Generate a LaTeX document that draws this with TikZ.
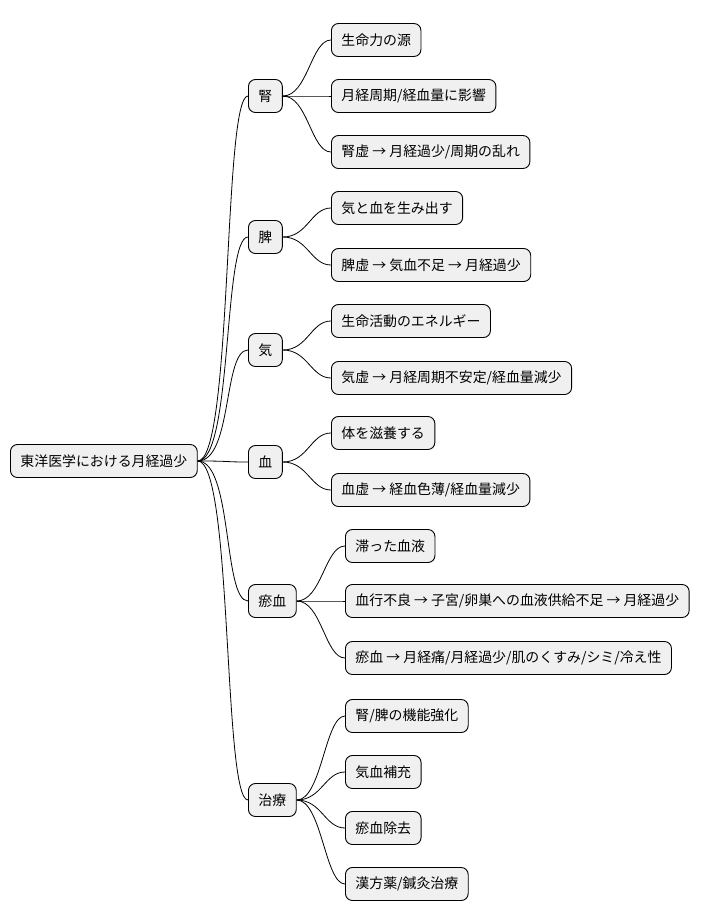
\documentclass[tikz,border=0pt]{standalone}
\usepackage{fontspec}
\setmainfont{Noto Sans CJK JP}
\begin{document}
\begin{tikzpicture}[x=1pt,y=-1pt,
 box/.style={draw=black,line width=0.9pt,fill=black!6,rounded corners=7pt,anchor=west,minimum height=33pt,inner xsep=10pt,font=\fontsize{13.9}{16}\selectfont},
 lk/.style={draw=black,line width=0.8pt}]
\useasboundingbox (0,0) rectangle (702,921);
\node[box] (r) at (10,461) {東洋医学における月経過少};
\node[box] (k) at (248,96) {腎};
\node[box] (p) at (248,237) {脾};
\node[box] (q) at (248,350) {気};
\node[box] (b) at (248,462) {血};
\node[box] (o) at (248,601) {瘀血};
\node[box] (t) at (248,800) {治療};
\node[box] (k1) at (331,40) {生命力の源};
\node[box] (k2) at (331,96) {月経周期/経血量に影響};
\node[box] (k3) at (331,152) {腎虚 → 月経過少/周期の乱れ};
\node[box] (p1) at (331,208) {気と血を生み出す};
\node[box] (p2) at (331,265) {脾虚 → 気血不足 → 月経過少};
\node[box] (q1) at (331,321) {生命活動のエネルギー};
\node[box] (q2) at (331,378) {気虚 → 月経周期不安定/経血量減少};
\node[box] (b1) at (331,433) {体を滋養する};
\node[box] (b2) at (331,490) {血虚 → 経血色薄/経血量減少};
\node[box] (o1) at (345,546) {滞った血液};
\node[box] (o2) at (345,601) {血行不良 → 子宮/卵巣への血液供給不足 → 月経過少};
\node[box] (o3) at (345,658) {瘀血 → 月経痛/月経過少/肌のくすみ/シミ/冷え性};
\node[box] (t1) at (345,716) {腎/脾の機能強化};
\node[box] (t2) at (345,772) {気血補充};
\node[box] (t3) at (345,828) {瘀血除去};
\node[box] (t4) at (345,884) {漢方薬/鍼灸治療};
\foreach \c in {k,p,q,b,o,t}
  \draw[lk] (r.east) .. controls +(35,0) and +(-25,0) .. (\c.west);
\foreach \p/\c in {k/k1,k/k2,k/k3,p/p1,p/p2,q/q1,q/q2,b/b1,b/b2,o/o1,o/o2,o/o3,t/t1,t/t2,t/t3,t/t4}
  \draw[lk] (\p.east) .. controls +(25,0) and +(-20,0) .. (\c.west);
\end{tikzpicture}
\end{document}
